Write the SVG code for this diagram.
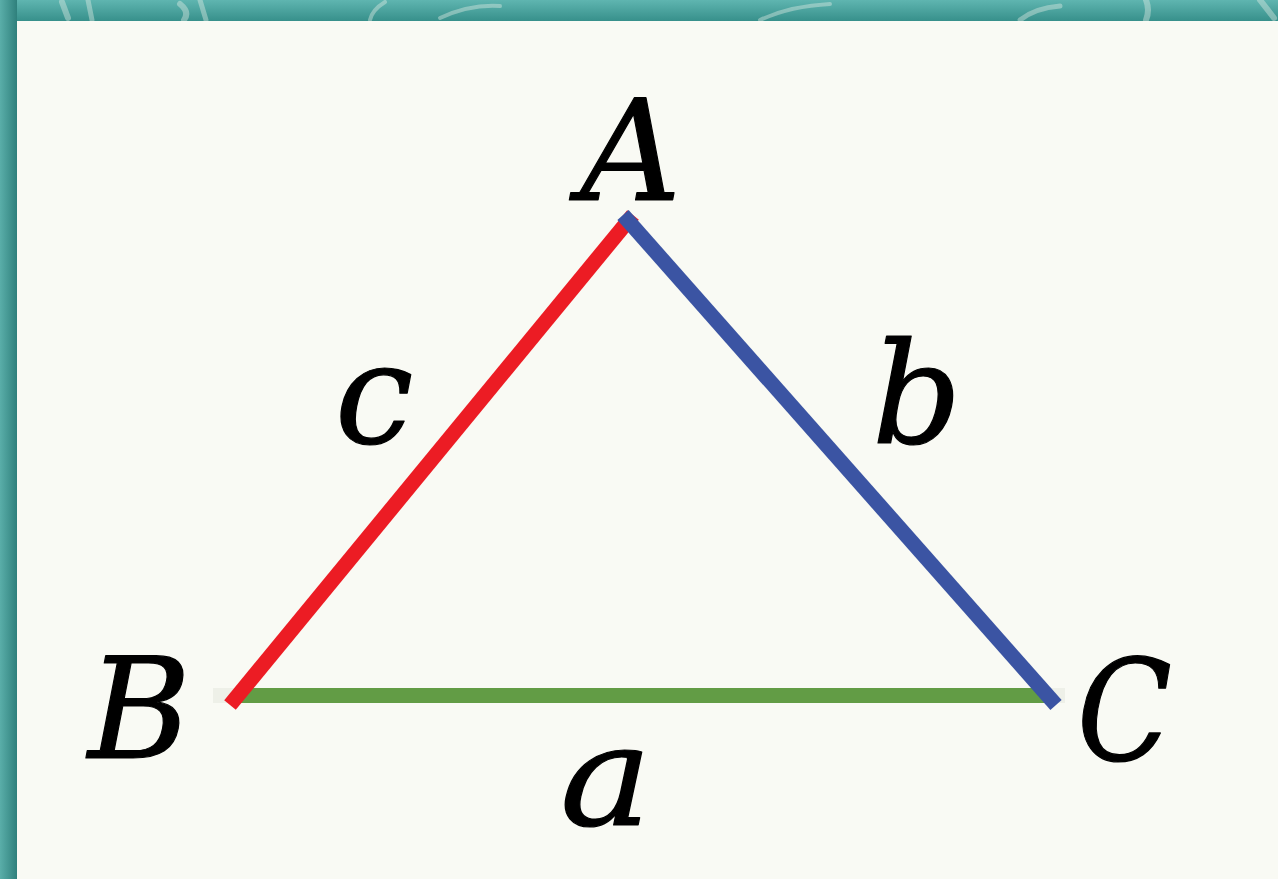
<svg xmlns="http://www.w3.org/2000/svg" width="1278" height="879" viewBox="0 0 1278 879">
<defs>
<linearGradient id="bg" x1="0" y1="0" x2="0" y2="1">
<stop offset="0" stop-color="#5bb3ae"/>
<stop offset="1" stop-color="#3a918c"/>
</linearGradient>
<linearGradient id="band" x1="0" y1="0" x2="0" y2="1">
<stop offset="0" stop-color="#5fb5b0"/>
<stop offset="1" stop-color="#37908b"/>
</linearGradient>
<linearGradient id="edge" x1="0" y1="0" x2="1" y2="0">
<stop offset="0" stop-color="#5aaea9"/>
<stop offset="1" stop-color="#2f807c"/>
</linearGradient>
</defs>
<style>
.lbl{font-family:"DejaVu Serif","Liberation Serif",serif;font-style:italic;fill:#000;stroke:#000;stroke-width:1.2;stroke-linejoin:round;}
.side{stroke-width:15;fill:none;stroke-linecap:butt;}
.chalk{stroke:#e8efe9;stroke-opacity:0.4;fill:none;stroke-linecap:round;}
</style>
<rect width="1278" height="879" fill="url(#bg)"/>
<rect x="0" y="0" width="1278" height="21" fill="url(#band)"/>
<rect x="0" y="0" width="17" height="879" fill="url(#edge)"/>
<g id="chalk">
<path class="chalk" d="M62 2 L68 18" stroke-width="6"/>
<path class="chalk" d="M88 0 L92 20" stroke-width="5"/>
<path class="chalk" d="M180 4 Q190 12 184 20" stroke-width="6"/>
<path class="chalk" d="M200 0 L206 20" stroke-width="5"/>
<path class="chalk" d="M370 20 Q372 10 385 2" stroke-width="4"/>
<path class="chalk" d="M440 18 Q470 4 500 6" stroke-width="4"/>
<path class="chalk" d="M760 20 Q790 6 830 4" stroke-width="4"/>
<path class="chalk" d="M1020 20 Q1035 8 1060 6" stroke-width="5"/>
<path class="chalk" d="M1146 0 Q1150 10 1146 20" stroke-width="6"/>
<path class="chalk" d="M1260 0 L1274 18" stroke-width="6"/>
</g>
<rect id="panel" x="17" y="21" width="1261" height="858" fill="#f9faf4"/>
<g id="connectors">
<rect x="213" y="688" width="852" height="15" fill="#eef0e8"/>
<line id="side-a" class="side" x1="238" y1="695.5" x2="1045" y2="695.5" stroke="#629c45"/>
<line id="side-c" class="side" x1="230" y1="705" x2="633" y2="215" stroke="#ec1c24"/>
<line id="side-b" class="side" x1="623" y1="215" x2="1056" y2="705" stroke="#3b54a3"/>
</g>
<g id="node-A"><text class="lbl" x="580" y="200" font-size="140">A</text></g>
<g id="node-B"><text class="lbl" x="88" y="758" font-size="140">B</text></g>
<g id="node-C"><text class="lbl" x="1077" y="760" font-size="140" textLength="95" lengthAdjust="spacingAndGlyphs">C</text></g>
<g id="label-c"><text class="lbl" x="335" y="443" font-size="140">c</text></g>
<g id="label-b"><text class="lbl" x="872" y="443" font-size="140">b</text></g>
<g id="label-a"><text class="lbl" x="560" y="825" font-size="140" textLength="92" lengthAdjust="spacingAndGlyphs">a</text></g>
</svg>
